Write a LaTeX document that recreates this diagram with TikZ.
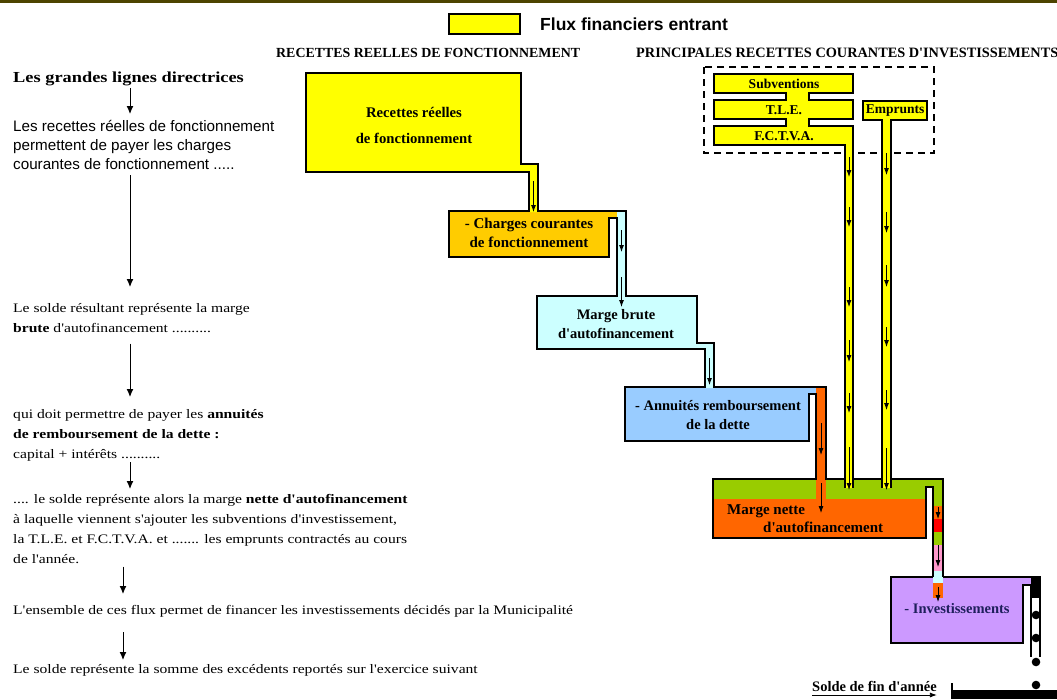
\documentclass[tikz,border=0pt]{standalone}
\usepackage{fontspec}
\newfontfamily\serifn[Ligatures=TeXOff]{Liberation Serif}
\newfontfamily\serifw[Ligatures=TeXOff,FakeStretch=1.2]{Liberation Serif}
\newfontfamily\arial{Liberation Sans}
\usetikzlibrary{arrows.meta}

\definecolor{fluxyellow}{HTML}{FFFF00}
\definecolor{chargegold}{HTML}{FFCC00}
\definecolor{brutecyan}{HTML}{CCFFFF}
\definecolor{annublue}{HTML}{99CCFF}
\definecolor{nettegreen}{HTML}{99CC00}
\definecolor{netteorange}{HTML}{FF6600}
\definecolor{investviolet}{HTML}{CC99FF}
\definecolor{flowred}{HTML}{FF0000}
\definecolor{flowpink}{HTML}{FF99CC}
\definecolor{inknavy}{HTML}{1F1F5C}
\definecolor{topolive}{HTML}{4D4400}

\begin{document}
\begin{tikzpicture}[x=1pt,y=-1pt,
	tank/.style={draw=black, line width=1.5pt, line join=miter},
	invbox/.style={draw=black, line width=1.6pt, dash pattern=on 7pt off 5pt},
	flow/.style={-{Latex[length=7pt,width=5pt]}, line width=0.8pt},
	guidearrow/.style={-{Latex[length=8pt,width=7pt]}, line width=1pt},
	tanklabel/.style={font=\serifn\bfseries\fontsize{14.5}{19}\selectfont, align=center, inner sep=0},
	barlabel/.style={font=\serifn\bfseries\fontsize{13.5}{16}\selectfont, inner sep=0},
	headline/.style={font=\serifn\bfseries\fontsize{13.9}{16}\selectfont, inner sep=0, anchor=base west},
	sansnote/.style={font=\arial\fontsize{15.2}{19.3}\selectfont, align=left, inner sep=0, anchor=north west},
	serifnote/.style={font=\serifw\fontsize{13}{20}\selectfont, align=left, inner sep=0, anchor=north west}]

	\useasboundingbox (0,0) rectangle (1057,699);

	% top rule and legend
	\fill[topolive] (0,0) rectangle (1057,3);
	\filldraw[fill=fluxyellow, draw=black, line width=1.5pt] (449,14) rectangle (520,34);
	\node[font=\arial\bfseries\fontsize{17.5}{20}\selectfont, anchor=base west, inner sep=0] (legendtxt) at (540,30) {Flux financiers entrant};

	\node[headline] (headfonct) at (276,57) {RECETTES REELLES DE FONCTIONNEMENT};
	\node[headline, font=\serifn\bfseries\fontsize{14.3}{16}\selectfont] (headinv) at (636,57) {PRINCIPALES RECETTES COURANTES D'INVESTISSEMENTS};

	% left column
	\node[serifnote, font=\serifw\bfseries\fontsize{15.3}{18}\selectfont] (lead) at (13,72) {Les grandes lignes directrices};
	\node[sansnote] (rec) at (13,120) {Les recettes réelles de fonctionnement\\permettent de payer les charges\\courantes de fonctionnement .....};
	\node[serifnote] (brute) at (13,303) {Le solde résultant représente la marge\\\textbf{brute} d'autofinancement ..........};
	\node[serifnote] (annu) at (13,409) {qui doit permettre de payer les \textbf{annuités}\\\textbf{de remboursement de la dette :}\\capital + intérêts ..........};
	\node[serifnote] (nette) at (13,494) {.... le solde représente alors la marge \textbf{nette d'autofinancement}\\à laquelle viennent s'ajouter les subventions d'investissement,\\la T.L.E. et F.C.T.V.A. et ....... les emprunts contractés au cours\\de l'année.};
	\node[serifnote] (ens) at (13,605) {L'ensemble de ces flux permet de financer les investissements décidés par la Municipalité};
	\node[serifnote] (solde) at (13,664) {Le solde représente la somme des excédents reportés sur l'exercice suivant};

	\coordinate (gx) at (130,0);
	\coordinate (gy) at (123,0);
	\draw[guidearrow, shorten <=2pt, shorten >=6pt] (lead.south -| gx) -- (rec.north -| gx);
	\draw[guidearrow, shorten <=5pt, shorten >=16pt] (rec.south -| gx) -- (brute.north -| gx);
	\draw[guidearrow, shorten <=11pt, shorten >=12pt] (brute.south -| gx) -- (annu.north -| gx);
	\draw[guidearrow, shorten <=1pt, shorten >=5pt] (annu.south -| gx) -- (nette.north -| gx);
	\draw[guidearrow, shorten <=3pt, shorten >=11pt] (nette.south -| gy) -- (ens.north -| gy);
	\draw[guidearrow, shorten <=15pt, shorten >=4pt] (ens.south -| gy) -- (solde.north -| gy);

	% investissements
	\fill[investviolet] (891,577) -- (1031,577) -- (1031,585) -- (1023,585) -- (1023,643) -- (891,643) -- cycle;
	\fill (1031,577) rectangle (1040,598);
	\draw[tank] (1040,657) -- (1040,577) -- (891,577) -- (891,643) -- (1023,643) -- (1023,585) -- (1031,585) -- (1031,657);
	\foreach \y in {615,638,662,685}
		\fill (1036,\y) circle[radius=4.3pt];
	\fill (952,690) rectangle (1057,699);
	\draw[line width=1.5pt] (952,683) -- (952,699);

	% marge nette
	\fill[nettegreen] (713,479) -- (943,479) -- (943,577) -- (933,577) -- (933,487) -- (926,487) -- (926,538) -- (713,538) -- cycle;
	\fill[netteorange] (713,499) rectangle (926,538);
	\foreach \ya/\yb/\c in {506/519/netteorange, 519/532/flowred, 532/545/nettegreen, 545/571/flowpink, 571/583/brutecyan, 583/598/netteorange}
		\fill[\c] (933,\ya) rectangle (943,\yb);
	\draw[tank] (933,577) -- (933,487) -- (926,487) -- (926,538) -- (713,538) -- (713,479) -- (943,479) -- (943,577);

	% annuites
	\fill[annublue] (625,387) -- (816,387) -- (816,394) -- (809,394) -- (809,441) -- (625,441) -- cycle;
	\fill[netteorange] (816,387) rectangle (826,513);
	\draw[tank] (816,480) -- (816,394) -- (809,394) -- (809,441) -- (625,441) -- (625,387) -- (826,387) -- (826,480);

	% investment receipts
	\draw[invbox] (704,67) rectangle (934,153);
	\path[tank, fill=fluxyellow] (845,488) -- (845,145) -- (714,145) -- (714,126) -- (786,126) -- (786,119) -- (714,119) -- (714,100) -- (786,100) -- (786,93) -- (714,93) -- (714,74) -- (853,74) -- (853,93) -- (809,93) -- (809,100) -- (853,100) -- (853,119) -- (809,119) -- (809,126) -- (853,126) -- (853,488);
	\path[tank, fill=fluxyellow] (882,488) -- (882,120) -- (863,120) -- (863,101) -- (927,101) -- (927,120) -- (891,120) -- (891,488);

	% marge brute
	\path[tank, fill=brutecyan] (705,388) -- (705,349) -- (537,349) -- (537,296) -- (697,296) -- (697,343) -- (714,343) -- (714,388);

	% charges courantes
	\fill[chargegold] (449,211) -- (617,211) -- (617,218) -- (609,218) -- (609,257) -- (449,257) -- cycle;
	\fill[brutecyan] (617,211) rectangle (626,297);
	\draw[tank] (617,297) -- (617,218) -- (609,218) -- (609,257) -- (449,257) -- (449,211) -- (626,211) -- (626,297);

	% recettes reelles
	\path[tank, fill=fluxyellow] (529,212) -- (529,172) -- (306,172) -- (306,73) -- (521,73) -- (521,164) -- (538,164) -- (538,212);

	% flow marks
	\foreach \x/\ya/\yb in {533.5/181/212, 621.5/230/252, 621.5/277/307, 709.5/358/385,
		821/423/455, 821/483/513,
		849/157/177, 849/207/227, 849/287/307, 849/340/362, 849/393/413, 849/447/490,
		886.5/153/175, 886.5/212/233, 886.5/265/287, 886.5/327/347, 886.5/390/410, 886.5/448/490,
		938/507/519, 938/545/567, 938/587/602}
		\draw[flow] (\x,\ya) -- (\x,\yb);

	% labels
	\node[tanklabel, font=\serifn\bfseries\fontsize{14.7}{26}\selectfont] (recettes) at (414,125) {Recettes réelles\\de fonctionnement};
	\node[tanklabel, font=\serifn\bfseries\fontsize{15}{19}\selectfont] (charges) at (529,232.5) {- Charges courantes\\de fonctionnement};
	\node[tanklabel] (margebrute) at (616,324.5) {Marge brute\\d'autofinancement};
	\node[tanklabel] (annuites) at (718,415.5) {- Annuités remboursement\\de la dette};
	\node[tanklabel, align=left, anchor=west, font=\serifn\bfseries\fontsize{15}{18}\selectfont] (margenette) at (727,519) {Marge nette\\\hspace*{36pt}d'autofinancement};
	\node[tanklabel, text=inknavy] (invest) at (957,609) {- Investissements};
	\node[barlabel] (subv) at (784,84) {Subventions};
	\node[barlabel] (tle) at (784,110) {T.L.E.};
	\node[barlabel] (fctva) at (784,136) {F.C.T.V.A.};
	\node[barlabel] (emprunts) at (895,111) {Emprunts};

	\node[tanklabel, anchor=base west] (soldefin) at (812,691) {Solde de fin d'année};
	\draw[-{Latex[length=7pt,width=5pt]}, line width=0.8pt] ([yshift=-4pt]soldefin.base west) -- ([yshift=-4pt]soldefin.base east);
\end{tikzpicture}
\end{document}
